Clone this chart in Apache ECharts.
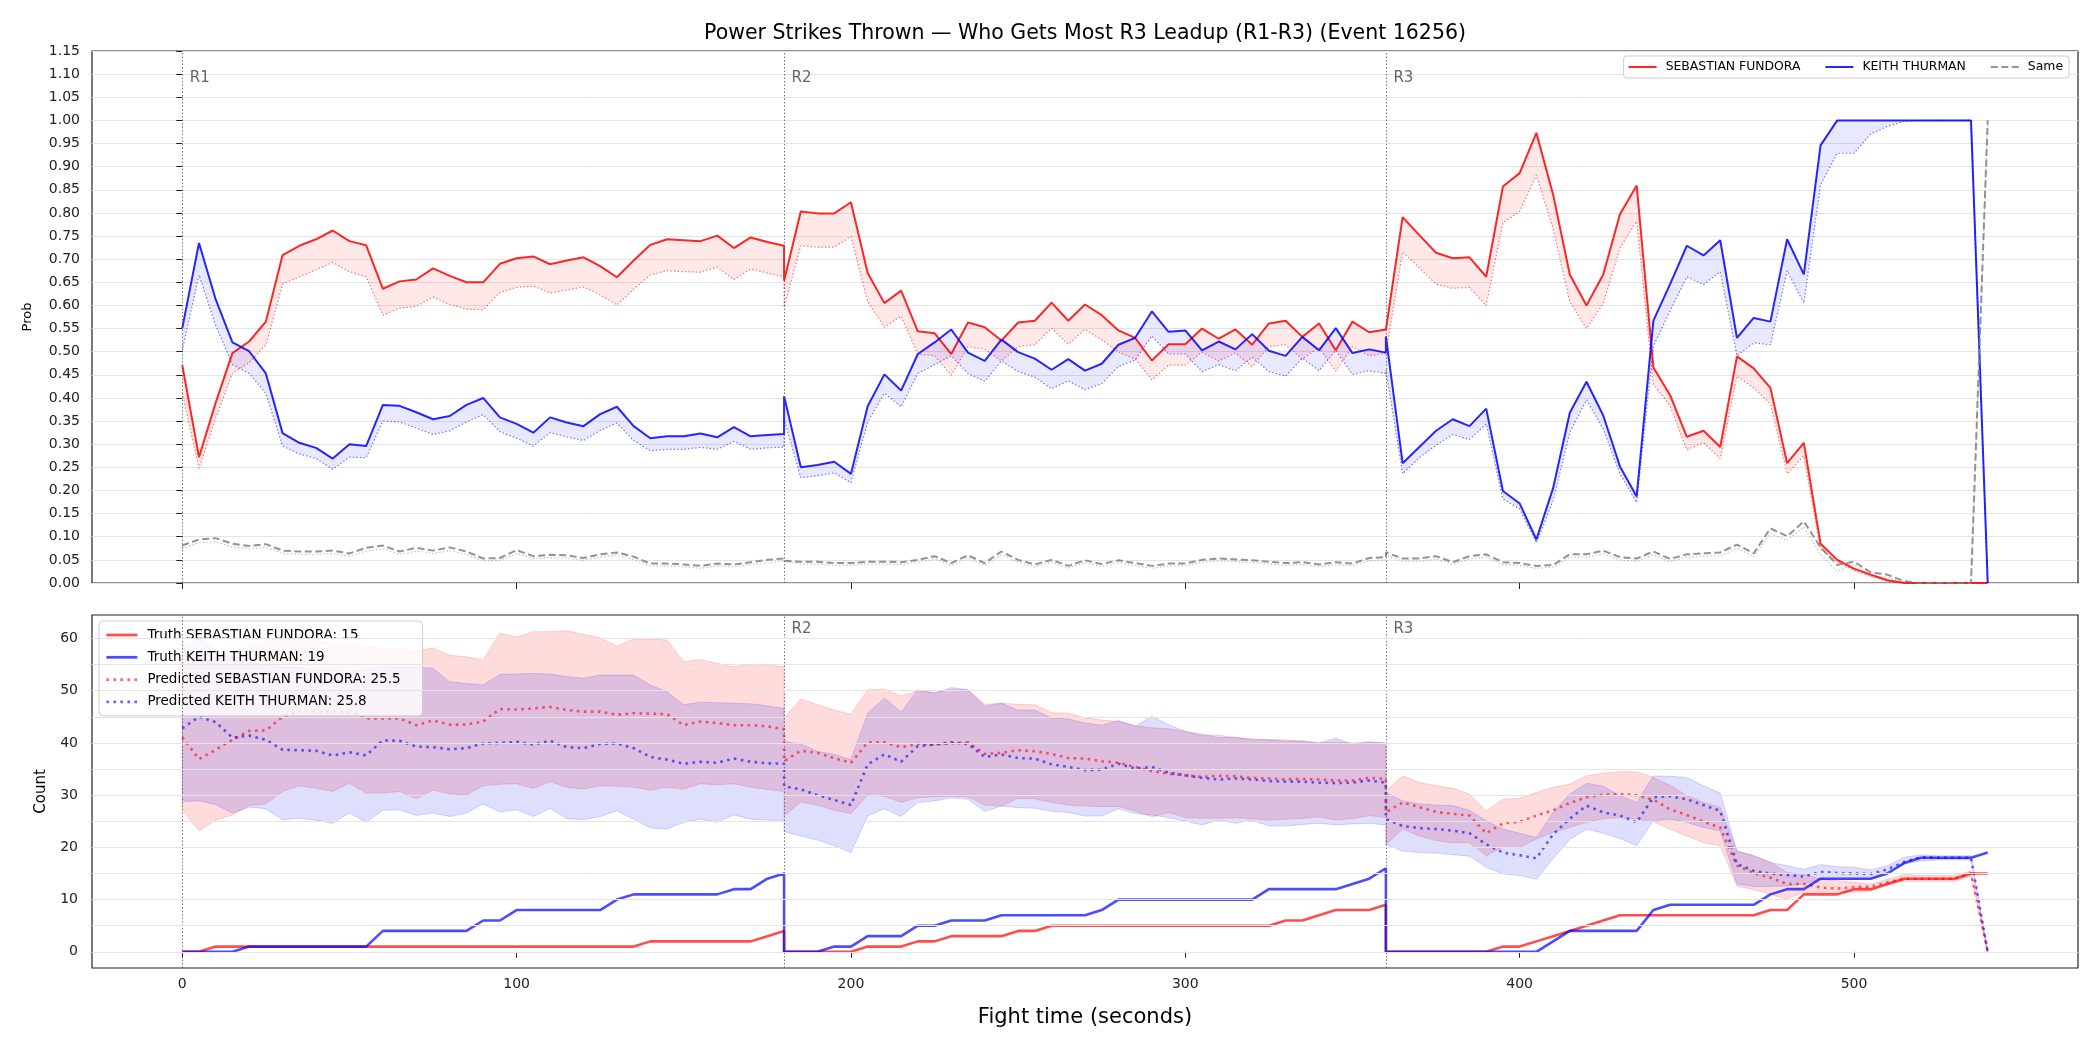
<!DOCTYPE html>
<html>
<head>
<meta charset="utf-8">
<title>Power Strikes Thrown</title>
<script src="https://cdn.jsdelivr.net/npm/echarts@6/dist/echarts.min.js"></script>
<style>
  html, body { margin: 0; padding: 0; background: #fff; }
  #chart { width: 2100px; height: 1050px; }
</style>
</head>
<body>
<div id="chart"></div>
<script>
// fight clock, one sample every 5 s; each round restarts at its boundary
const fightTime = [
  0, 5, 10, 15, 20, 25, 30, 35, 40, 45, 50, 55, 60, 65, 70, 75, 80, 85, 90, 95, 100, 105, 110, 115, 120, 125, 130, 135, 140, 145, 150, 155, 160, 165, 170, 175, 180,
  180, 185, 190, 195, 200, 205, 210, 215, 220, 225, 230, 235, 240, 245, 250, 255, 260, 265, 270, 275, 280, 285, 290, 295, 300, 305, 310, 315, 320, 325, 330, 335, 340, 345, 350, 355, 360,
  360, 365, 370, 375, 380, 385, 390, 395, 400, 405, 410, 415, 420, 425, 430, 435, 440, 445, 450, 455, 460, 465, 470, 475, 480, 485, 490, 495, 500, 505, 510, 515, 520, 525, 530, 535, 540
];

const timeTicks = [0, 100, 200, 300, 400, 500];
const countTicks = [0, 10, 20, 30, 40, 50, 60];
const countGridLines = [0, 5, 10, 15, 20, 25, 30, 35, 40, 45, 50, 55, 60];
const roundStarts = [0, 180, 360];
const roundNames = ['R1', 'R2', 'R3'];

// ---- top panel: probability of leading the R3 power-strike count ----
const fundoraProb = [
  0.471, 0.272, 0.39, 0.497, 0.522, 0.565, 0.709, 0.729, 0.743, 0.762, 0.739, 0.730, 0.636, 0.652, 0.656, 0.680, 0.664, 0.650, 0.650, 0.690, 0.702, 0.706, 0.689, 0.697, 0.704, 0.685, 0.661, 0.697, 0.731, 0.743, 0.741, 0.739, 0.751, 0.724, 0.747, 0.737, 0.729,
  0.654, 0.803, 0.799, 0.799, 0.823, 0.670, 0.605, 0.632, 0.544, 0.540, 0.495, 0.563, 0.553, 0.524, 0.563, 0.567, 0.606, 0.567, 0.602, 0.579, 0.546, 0.530, 0.481, 0.516, 0.516, 0.550, 0.528, 0.548, 0.515, 0.561, 0.567, 0.532, 0.561, 0.503, 0.565, 0.542, 0.548,
  0.550, 0.791, 0.752, 0.714, 0.702, 0.704, 0.662, 0.857, 0.886, 0.973, 0.840, 0.667, 0.600, 0.667, 0.797, 0.859, 0.466, 0.406, 0.316, 0.329, 0.294, 0.490, 0.464, 0.422, 0.259, 0.303, 0.085, 0.050, 0.031, 0.018, 0.006, 0, 0, 0, 0, 0, 0
];
const fundoraProbPred = [
  0.41, 0.248, 0.356, 0.453, 0.476, 0.515, 0.646, 0.662, 0.677, 0.693, 0.673, 0.662, 0.579, 0.594, 0.598, 0.618, 0.602, 0.592, 0.591, 0.628, 0.639, 0.642, 0.627, 0.633, 0.640, 0.623, 0.601, 0.635, 0.666, 0.675, 0.673, 0.672, 0.683, 0.656, 0.679, 0.670, 0.662,
  0.596, 0.729, 0.726, 0.726, 0.749, 0.608, 0.553, 0.577, 0.495, 0.491, 0.449, 0.511, 0.505, 0.480, 0.511, 0.515, 0.551, 0.516, 0.548, 0.526, 0.499, 0.484, 0.439, 0.471, 0.471, 0.499, 0.480, 0.497, 0.468, 0.511, 0.515, 0.484, 0.509, 0.458, 0.511, 0.491, 0.497,
  0.495, 0.716, 0.681, 0.646, 0.637, 0.639, 0.600, 0.779, 0.803, 0.882, 0.766, 0.608, 0.550, 0.604, 0.724, 0.782, 0.430, 0.383, 0.288, 0.303, 0.269, 0.447, 0.422, 0.387, 0.236, 0.275, 0.074, 0.046, 0.027, 0.014, 0.004, 0, 0, 0, 0, 0, 0
];
const thurmanProb = [
  0.551, 0.735, 0.613, 0.520, 0.501, 0.453, 0.324, 0.303, 0.292, 0.269, 0.300, 0.296, 0.385, 0.383, 0.369, 0.354, 0.361, 0.385, 0.400, 0.358, 0.344, 0.325, 0.358, 0.347, 0.339, 0.365, 0.381, 0.339, 0.313, 0.317, 0.317, 0.323, 0.315, 0.337, 0.317, 0.320, 0.322,
  0.404, 0.250, 0.255, 0.262, 0.236, 0.382, 0.451, 0.416, 0.495, 0.520, 0.548, 0.498, 0.480, 0.526, 0.499, 0.485, 0.461, 0.484, 0.459, 0.474, 0.515, 0.530, 0.587, 0.543, 0.546, 0.503, 0.522, 0.505, 0.538, 0.502, 0.491, 0.532, 0.503, 0.551, 0.497, 0.505, 0.498,
  0.533, 0.259, 0.294, 0.329, 0.354, 0.339, 0.377, 0.199, 0.172, 0.094, 0.205, 0.368, 0.435, 0.362, 0.252, 0.187, 0.567, 0.646, 0.729, 0.708, 0.741, 0.530, 0.573, 0.565, 0.743, 0.667, 0.946, 1, 1, 1, 1, 1, 1, 1, 1, 1, 0
];
const thurmanProbPred = [
  0.503, 0.666, 0.557, 0.472, 0.453, 0.410, 0.296, 0.279, 0.269, 0.246, 0.272, 0.271, 0.350, 0.348, 0.335, 0.321, 0.329, 0.348, 0.364, 0.327, 0.313, 0.296, 0.325, 0.316, 0.308, 0.330, 0.346, 0.308, 0.286, 0.289, 0.289, 0.293, 0.289, 0.306, 0.289, 0.292, 0.294,
  0.354, 0.228, 0.232, 0.238, 0.217, 0.348, 0.410, 0.381, 0.453, 0.472, 0.491, 0.453, 0.436, 0.480, 0.457, 0.445, 0.420, 0.437, 0.418, 0.431, 0.468, 0.482, 0.534, 0.495, 0.495, 0.457, 0.472, 0.459, 0.488, 0.457, 0.447, 0.486, 0.459, 0.503, 0.451, 0.459, 0.453,
  0.460, 0.236, 0.271, 0.298, 0.321, 0.310, 0.344, 0.182, 0.160, 0.087, 0.178, 0.325, 0.396, 0.333, 0.236, 0.174, 0.512, 0.588, 0.662, 0.645, 0.673, 0.491, 0.519, 0.515, 0.675, 0.605, 0.861, 0.929, 0.929, 0.971, 0.987, 0.998, 1, 1, 1, 1, 0
];
const sameProb = [
  0.081, 0.094, 0.097, 0.085, 0.080, 0.084, 0.070, 0.068, 0.068, 0.070, 0.064, 0.076, 0.081, 0.068, 0.076, 0.070, 0.077, 0.068, 0.053, 0.054, 0.071, 0.058, 0.061, 0.060, 0.054, 0.062, 0.066, 0.057, 0.042, 0.042, 0.040, 0.037, 0.042, 0.040, 0.045, 0.050, 0.053,
  0.048, 0.046, 0.046, 0.043, 0.043, 0.046, 0.046, 0.045, 0.050, 0.058, 0.043, 0.060, 0.043, 0.068, 0.050, 0.040, 0.050, 0.037, 0.049, 0.041, 0.049, 0.043, 0.037, 0.042, 0.042, 0.050, 0.053, 0.051, 0.049, 0.046, 0.043, 0.045, 0.040, 0.045, 0.042, 0.054, 0.056,
  0.066, 0.053, 0.053, 0.058, 0.045, 0.058, 0.062, 0.045, 0.043, 0.037, 0.039, 0.062, 0.062, 0.070, 0.056, 0.053, 0.068, 0.052, 0.062, 0.064, 0.066, 0.083, 0.064, 0.118, 0.101, 0.133, 0.077, 0.039, 0.046, 0.023, 0.018, 0.004, 0, 0, 0, 0, 1
];
const sameProbPred = [
  0.074, 0.087, 0.089, 0.078, 0.074, 0.077, 0.064, 0.062, 0.062, 0.064, 0.058, 0.069, 0.074, 0.062, 0.069, 0.064, 0.070, 0.062, 0.048, 0.049, 0.064, 0.053, 0.055, 0.054, 0.049, 0.056, 0.060, 0.051, 0.037, 0.037, 0.035, 0.032, 0.037, 0.035, 0.040, 0.044, 0.047,
  0.043, 0.041, 0.041, 0.038, 0.038, 0.041, 0.041, 0.040, 0.045, 0.052, 0.038, 0.054, 0.038, 0.061, 0.045, 0.035, 0.045, 0.032, 0.044, 0.036, 0.044, 0.038, 0.032, 0.037, 0.037, 0.045, 0.047, 0.046, 0.044, 0.041, 0.038, 0.040, 0.035, 0.040, 0.037, 0.048, 0.050,
  0.059, 0.047, 0.047, 0.052, 0.040, 0.052, 0.056, 0.040, 0.038, 0.032, 0.034, 0.056, 0.056, 0.063, 0.050, 0.047, 0.061, 0.046, 0.056, 0.058, 0.059, 0.075, 0.057, 0.107, 0.092, 0.121, 0.062, 0.025, 0.040, 0.015, 0.012, 0.002, 0, 0, 0, 0, 1
];

// ---- bottom panel: cumulative power strikes, truth vs predicted ----
const fundoraCount = [
  0, 0, 1, 1, 1, 1, 1, 1, 1, 1, 1, 1, 1, 1, 1, 1, 1, 1, 1, 1, 1, 1, 1, 1, 1, 1, 1, 1, 2, 2, 2, 2, 2, 2, 2, 3, 4,
  0, 0, 0, 0, 0, 1, 1, 1, 2, 2, 3, 3, 3, 3, 4, 4, 5, 5, 5, 5, 5, 5, 5, 5, 5, 5, 5, 5, 5, 5, 6, 6, 7, 8, 8, 8, 9,
  0, 0, 0, 0, 0, 0, 0, 1, 1, 2, 3, 4, 5, 6, 7, 7, 7, 7, 7, 7, 7, 7, 7, 8, 8, 11, 11, 11, 12, 12, 13, 14, 14, 14, 14, 15, 15
];
const thurmanCount = [
  0, 0, 0, 0, 1, 1, 1, 1, 1, 1, 1, 1, 4, 4, 4, 4, 4, 4, 6, 6, 8, 8, 8, 8, 8, 8, 10, 11, 11, 11, 11, 11, 11, 12, 12, 14, 15,
  0, 0, 0, 1, 1, 3, 3, 3, 5, 5, 6, 6, 6, 7, 7, 7, 7, 7, 7, 8, 10, 10, 10, 10, 10, 10, 10, 10, 10, 12, 12, 12, 12, 12, 13, 14, 16,
  0, 0, 0, 0, 0, 0, 0, 0, 0, 0, 2, 4, 4, 4, 4, 4, 8, 9, 9, 9, 9, 9, 9, 11, 12, 12, 14, 14, 14, 14, 15, 17, 18, 18, 18, 18, 19
];
const fundoraCountPred = [
  41.1, 36.9, 38.7, 40.6, 42.3, 42.4, 45.0, 46.0, 46.0, 46.0, 45.9, 44.7, 44.7, 44.7, 43.4, 44.3, 43.5, 43.5, 44.1, 46.5, 46.4, 46.6, 46.9, 46.3, 46.0, 46.0, 45.4, 45.7, 45.6, 45.5, 43.4, 44.1, 43.8, 43.4, 43.4, 43.2, 42.6,
  36.5, 38.5, 38.1, 37.1, 36.2, 40.1, 40.1, 39.2, 39.8, 39.7, 39.9, 40.1, 37.9, 38.1, 38.6, 38.4, 37.9, 37.1, 37.0, 36.5, 36.2, 35.4, 34.6, 34.1, 33.8, 33.5, 33.7, 33.6, 33.3, 33.2, 33.0, 33.1, 33.0, 32.8, 32.8, 33.3, 33.1,
  26.7, 28.6, 27.7, 26.8, 26.4, 26.1, 22.7, 24.6, 24.9, 26.1, 27.1, 28.5, 29.6, 30.1, 30.2, 30.0, 29.1, 27.3, 26.2, 24.9, 23.8, 16.5, 15.1, 14.2, 13.0, 13.0, 12.3, 12.1, 12.4, 12.5, 13.3, 14.0, 14.0, 14.0, 14.0, 15.0, 0
];
const thurmanCountPred = [
  42.8, 45.0, 44.0, 41.0, 41.4, 40.6, 38.7, 38.6, 38.5, 37.6, 38.2, 37.6, 40.5, 40.4, 39.3, 39.2, 38.8, 39.0, 39.9, 40.0, 40.2, 39.7, 40.4, 39.2, 39.0, 39.8, 39.9, 39.0, 37.3, 36.8, 36.0, 36.4, 36.2, 37.0, 36.4, 36.1, 36.0,
  31.7, 31.1, 30.0, 29.1, 28.1, 35.9, 37.8, 36.4, 39.4, 39.7, 40.1, 39.8, 37.3, 37.8, 37.1, 37.0, 35.9, 35.4, 34.8, 34.9, 36.0, 35.1, 35.4, 34.3, 33.8, 33.3, 33.0, 33.2, 33.0, 32.7, 32.6, 32.6, 32.4, 32.3, 32.4, 32.8, 32.4,
  25.4, 24.1, 23.7, 23.5, 23.2, 22.7, 20.6, 19.0, 18.5, 17.9, 22.5, 25.5, 28.0, 26.7, 26.1, 24.8, 29.6, 29.8, 29.2, 28.1, 27.0, 16.8, 15.5, 15.0, 14.7, 14.4, 15.3, 15.1, 15.0, 14.9, 15.8, 17.2, 18.1, 18.0, 18.0, 18.0, 0
];
const fundoraCountHigh = [
  57.0, 55.5, 56.5, 57.5, 58.5, 59.5, 60.0, 59.5, 59.5, 59.0, 58.8, 58.5, 57.8, 58.0, 57.6, 58.2, 56.8, 56.5, 55.9, 61.0, 60.3, 61.3, 61.3, 61.5, 60.8, 60.1, 58.5, 59.9, 59.9, 59.7, 55.5, 56.0, 55.2, 54.6, 55.0, 54.9, 54.6,
  44.8, 48.4, 47.3, 46.3, 45.5, 50.2, 50.3, 49.0, 50.0, 49.7, 50.2, 50.2, 47.4, 47.6, 47.4, 47.3, 45.8, 45.7, 44.8, 44.4, 44.1, 43.3, 42.9, 42.7, 42.2, 41.4, 41.5, 41.0, 40.8, 40.6, 40.6, 40.3, 40.0, 40.2, 40.0, 40.2, 40.0,
  30.8, 33.7, 32.4, 31.8, 31.3, 30.2, 27.0, 29.2, 29.4, 30.5, 31.5, 32.1, 33.7, 34.2, 34.5, 34.5, 33.4, 31.9, 29.9, 28.6, 27.7, 19.3, 18.4, 17.2, 15.2, 14.9, 13.9, 13.6, 13.3, 13.0, 13.9, 14.8, 14.6, 14.6, 14.6, 15.5, 0
];
const fundoraCountLow = [
  27.2, 23.2, 25.2, 26.2, 28.0, 28.3, 30.7, 31.8, 31.3, 30.7, 32.3, 30.4, 30.4, 30.7, 29.3, 31.0, 30.2, 30.1, 31.8, 32.1, 32.2, 31.3, 32.6, 31.5, 31.2, 31.8, 31.7, 31.5, 31.0, 31.5, 31.2, 32.2, 32.0, 32.2, 31.5, 31.1, 30.7,
  26.0, 28.7, 28.1, 27.1, 26.5, 30.0, 29.8, 28.6, 29.5, 29.7, 29.8, 29.7, 28.1, 27.9, 29.4, 29.3, 28.6, 28.1, 27.9, 27.8, 27.8, 27.0, 25.8, 26.7, 25.7, 25.6, 25.6, 25.7, 25.5, 25.2, 25.4, 25.6, 25.8, 25.3, 25.5, 26.1, 25.7,
  20.5, 23.5, 22.2, 21.3, 20.9, 20.9, 18.4, 20.0, 20.0, 21.6, 22.9, 23.8, 24.8, 25.5, 25.7, 25.5, 24.9, 23.5, 22.2, 20.9, 20.3, 12.6, 11.9, 11.0, 10.1, 11.4, 11.4, 11.4, 11.4, 11.7, 12.8, 13.5, 13.5, 13.5, 13.5, 14.5, 0
];
const thurmanCountHigh = [
  58.5, 60.0, 58.0, 56.5, 55.5, 55.0, 54.5, 54.5, 54.0, 54.0, 53.5, 54.3, 54.6, 54.5, 54.5, 54.3, 51.7, 51.4, 51.1, 53.1, 53.2, 53.3, 53.2, 52.7, 52.4, 53.0, 53.0, 53.0, 51.1, 49.8, 47.3, 47.8, 47.7, 47.6, 47.5, 47.1, 46.6,
  40.3, 39.8, 38.4, 37.8, 36.8, 45.7, 48.6, 45.9, 50.2, 49.5, 50.6, 50.2, 47.0, 47.6, 46.3, 46.3, 44.8, 44.6, 43.8, 43.4, 44.3, 43.2, 45.1, 43.5, 42.2, 41.7, 41.0, 41.1, 40.6, 40.6, 40.3, 40.4, 40.0, 40.9, 39.8, 40.2, 40.0,
  30.5, 28.9, 28.3, 28.1, 28.0, 27.1, 25.1, 23.5, 22.7, 21.9, 26.7, 30.2, 32.3, 31.7, 29.9, 28.6, 33.7, 33.6, 33.4, 31.8, 30.4, 19.3, 18.4, 17.1, 16.5, 15.8, 16.7, 16.3, 16.2, 15.7, 16.5, 18.1, 18.6, 18.4, 18.4, 18.4, 0
];
const thurmanCountLow = [
  28.8, 28.9, 28.2, 26.6, 27.7, 27.4, 25.3, 25.6, 25.2, 24.6, 26.6, 24.8, 27.1, 27.2, 26.1, 26.6, 25.9, 26.6, 28.3, 26.8, 27.2, 25.9, 27.5, 25.5, 25.3, 25.9, 27.0, 25.4, 23.7, 23.5, 24.8, 25.4, 24.8, 26.2, 25.4, 25.2, 25.2,
  23.0, 22.2, 21.4, 20.3, 19.0, 26.0, 27.4, 25.9, 28.6, 28.9, 29.5, 29.2, 26.9, 27.9, 27.6, 27.5, 26.9, 26.7, 26.0, 26.0, 27.4, 26.5, 26.2, 25.7, 25.0, 24.3, 25.2, 24.6, 25.2, 24.1, 24.1, 24.4, 24.6, 24.3, 24.5, 24.6, 24.3,
  20.6, 19.3, 19.0, 18.9, 18.6, 18.3, 16.2, 14.9, 14.6, 13.9, 17.8, 21.5, 23.5, 22.7, 21.7, 20.3, 25.1, 25.4, 24.8, 23.8, 23.2, 13.0, 12.5, 12.5, 12.6, 13.0, 13.9, 13.9, 13.9, 14.0, 15.2, 16.8, 17.4, 17.6, 17.6, 17.6, 0
];

const TITLE = 'Power Strikes Thrown \u2014 Who Gets Most R3 Leadup (R1-R3) (Event 16256)';
const FONT = 'DejaVu Sans';

const chart = echarts.init(document.getElementById('chart'), null, { renderer: 'canvas' });

function pairs(values) {
  return fightTime.map((t, i) => [t, values[i]]);
}

function line(name, grid, values, color, width, type, z) {
  return {
    name: name,
    type: 'line',
    xAxisIndex: grid,
    yAxisIndex: grid,
    data: pairs(values),
    symbol: 'none',
    showSymbol: false,
    silent: true,
    z: z,
    lineStyle: { color: color, width: width, type: type, cap: 'butt' },
    itemStyle: { color: color },
  };
}

// shaded area between two curves, drawn through the axis scales
function band(grid, lower, upper, fill, stroke) {
  return {
    type: 'custom',
    xAxisIndex: grid,
    yAxisIndex: grid,
    silent: true,
    z: 1,
    data: [[fightTime[0], lower[0]]],
    renderItem: function (params, api) {
      const pts = [];
      for (let i = 0; i < fightTime.length; i++) pts.push(api.coord([fightTime[i], upper[i]]));
      for (let i = fightTime.length - 1; i >= 0; i--) pts.push(api.coord([fightTime[i], lower[i]]));
      return {
        type: 'polygon',
        shape: { points: pts },
        style: { fill: fill, stroke: stroke || 'none', lineWidth: 1 },
      };
    },
  };
}

const roundLineStyle = { color: '#555', width: 1, type: [1.5, 2], opacity: 0.8 };

function guides(grid, labelY, labelFrom, withGrid) {
  const markLines = roundStarts.map((x) => ({ xAxis: x, lineStyle: roundLineStyle }));
  if (withGrid) {
    countGridLines.forEach((y) => markLines.push({ yAxis: y, lineStyle: { color: '#e4e4e4', width: 1, type: 'solid' } }));
  }
  return {
    type: 'line',
    xAxisIndex: grid,
    yAxisIndex: grid,
    data: [],
    silent: true,
    z: 0,
    markLine: {
      silent: true,
      symbol: ['none', 'none'],
      label: { show: false },
      animation: false,
      data: markLines,
    },
    markPoint: {
      silent: true,
      symbol: 'rect',
      symbolSize: 1,
      itemStyle: { color: 'rgba(0,0,0,0)' },
      animation: false,
      label: { show: true, position: 'right', distance: 7, color: '#666', fontSize: 15, fontFamily: FONT, formatter: '{b}' },
      data: roundStarts.slice(labelFrom).map((x, i) => ({ name: roundNames[i + labelFrom], coord: [x, labelY] })),
    },
  };
}

const tickLabel = { color: '#222', fontSize: 14, fontFamily: FONT };

const option = {
  animation: false,
  backgroundColor: '#ffffff',
  textStyle: { fontFamily: FONT },
  graphic: [{
    type: 'text',
    x: 1085,
    y: 23,
    style: { text: TITLE, font: '20.5px "DejaVu Sans"', fill: '#000', align: 'center', verticalAlign: 'top' },
  }],
  grid: [
    { left: 92, right: 22, top: 51, height: 532, show: true, borderColor: '#222', borderWidth: 1.2, backgroundColor: 'transparent' },
    { left: 92, right: 22, top: 615, height: 353, show: true, borderColor: '#222', borderWidth: 1.2, backgroundColor: 'transparent' },
  ],
  xAxis: [
    {
      type: 'value', gridIndex: 0, min: -27, max: 567,
      axisLine: { show: false },
      axisTick: { show: true, length: 6, lineStyle: { color: '#222' }, customValues: timeTicks },
      axisLabel: { show: false, customValues: timeTicks },
      splitLine: { show: false },
    },
    {
      type: 'value', gridIndex: 1, min: -27, max: 567,
      name: 'Fight time (seconds)', nameLocation: 'middle', nameGap: 39,
      nameTextStyle: { color: '#000', fontSize: 21, fontFamily: FONT },
      axisLine: { show: false },
      axisTick: { show: true, length: 6, lineStyle: { color: '#222' }, customValues: timeTicks },
      axisLabel: Object.assign({ margin: 9, customValues: timeTicks }, tickLabel),
      splitLine: { show: false },
    },
  ],
  yAxis: [
    {
      type: 'value', gridIndex: 0, min: 0, max: 1.15, interval: 0.05,
      name: 'Prob', nameLocation: 'middle', nameGap: 58,
      nameTextStyle: { color: '#000', fontSize: 13, fontFamily: FONT },
      axisLine: { show: false },
      axisTick: { show: true, length: 6, lineStyle: { color: '#222' } },
      axisLabel: Object.assign({ margin: 12, formatter: (v) => v.toFixed(2) }, tickLabel),
      splitLine: { show: true, lineStyle: { color: '#e4e4e4', width: 1 } },
    },
    {
      type: 'value', gridIndex: 1, min: -3.1, max: 64.5,
      name: 'Count', nameLocation: 'middle', nameGap: 43,
      nameTextStyle: { color: '#000', fontSize: 15, fontFamily: FONT },
      axisLine: { show: false },
      axisTick: { show: true, length: 6, lineStyle: { color: '#222' }, customValues: countTicks },
      axisLabel: Object.assign({ margin: 14, customValues: countTicks }, tickLabel),
      splitLine: { show: false },
    },
  ],
  legend: [
    {
      data: ['SEBASTIAN FUNDORA', 'KEITH THURMAN', 'Same'],
      orient: 'horizontal', right: 31, top: 56,
      itemWidth: 28, itemHeight: 10, itemGap: 24,
      padding: [5, 6, 5, 4],
      backgroundColor: 'rgba(255,255,255,0.8)', borderColor: '#cccccc', borderWidth: 1, borderRadius: 3,
      itemStyle: { opacity: 0 },
      lineStyle: { width: 2 },
      textStyle: { color: '#000', fontSize: 12.4, fontFamily: FONT, padding: [0, 0, 0, 4] },
      selectedMode: false,
    },
    {
      data: ['Truth SEBASTIAN FUNDORA: 15', 'Truth KEITH THURMAN: 19', 'Predicted SEBASTIAN FUNDORA: 25.5', 'Predicted KEITH THURMAN: 25.8'],
      orient: 'vertical', left: 99, top: 621,
      itemWidth: 31, itemHeight: 12, itemGap: 8.3,
      padding: [7, 22, 7, 6],
      backgroundColor: 'rgba(255,255,255,0.8)', borderColor: '#cccccc', borderWidth: 1, borderRadius: 4,
      itemStyle: { opacity: 0 },
      lineStyle: { width: 2.8 },
      textStyle: { color: '#000', fontSize: 13.5, fontFamily: FONT, padding: [0, 0, 0, 5] },
      selectedMode: false,
    },
  ],
  series: [
    // top panel
    guides(0, 1.092, 0, false),
    band(0, fundoraProbPred, fundoraProb, 'rgba(255,0,0,0.09)'),
    band(0, thurmanProbPred, thurmanProb, 'rgba(0,0,255,0.09)'),
    line('fundora pred', 0, fundoraProbPred, 'rgba(255,0,0,0.55)', 1.2, [1.4, 2.2], 2),
    line('thurman pred', 0, thurmanProbPred, 'rgba(0,0,255,0.55)', 1.2, [1.4, 2.2], 2),
    line('same pred', 0, sameProbPred, 'rgba(140,140,140,0.55)', 1.2, [1.4, 2.2], 2),
    line('SEBASTIAN FUNDORA', 0, fundoraProb, 'rgba(255,0,0,0.85)', 2, 'solid', 3),
    line('KEITH THURMAN', 0, thurmanProb, 'rgba(0,0,255,0.85)', 2, 'solid', 3),
    line('Same', 0, sameProb, 'rgba(128,128,128,0.85)', 2, [7, 3.5], 3),

    // bottom panel
    guides(1, 61.8, 1, true),
    band(1, fundoraCountLow, fundoraCountHigh, 'rgba(255,0,0,0.14)', 'rgba(255,0,0,0.16)'),
    band(1, thurmanCountLow, thurmanCountHigh, 'rgba(0,0,255,0.13)', 'rgba(0,0,255,0.15)'),
    line('Predicted SEBASTIAN FUNDORA: 25.5', 1, fundoraCountPred, 'rgba(255,0,0,0.6)', 2.6, [2.6, 4.4], 2),
    line('Predicted KEITH THURMAN: 25.8', 1, thurmanCountPred, 'rgba(0,0,255,0.6)', 2.6, [2.6, 4.4], 2),
    line('Truth SEBASTIAN FUNDORA: 15', 1, fundoraCount, 'rgba(255,0,0,0.7)', 2.6, 'solid', 3),
    line('Truth KEITH THURMAN: 19', 1, thurmanCount, 'rgba(0,0,255,0.7)', 2.6, 'solid', 3),
  ],
};

chart.setOption(option);
</script>
</body>
</html>
